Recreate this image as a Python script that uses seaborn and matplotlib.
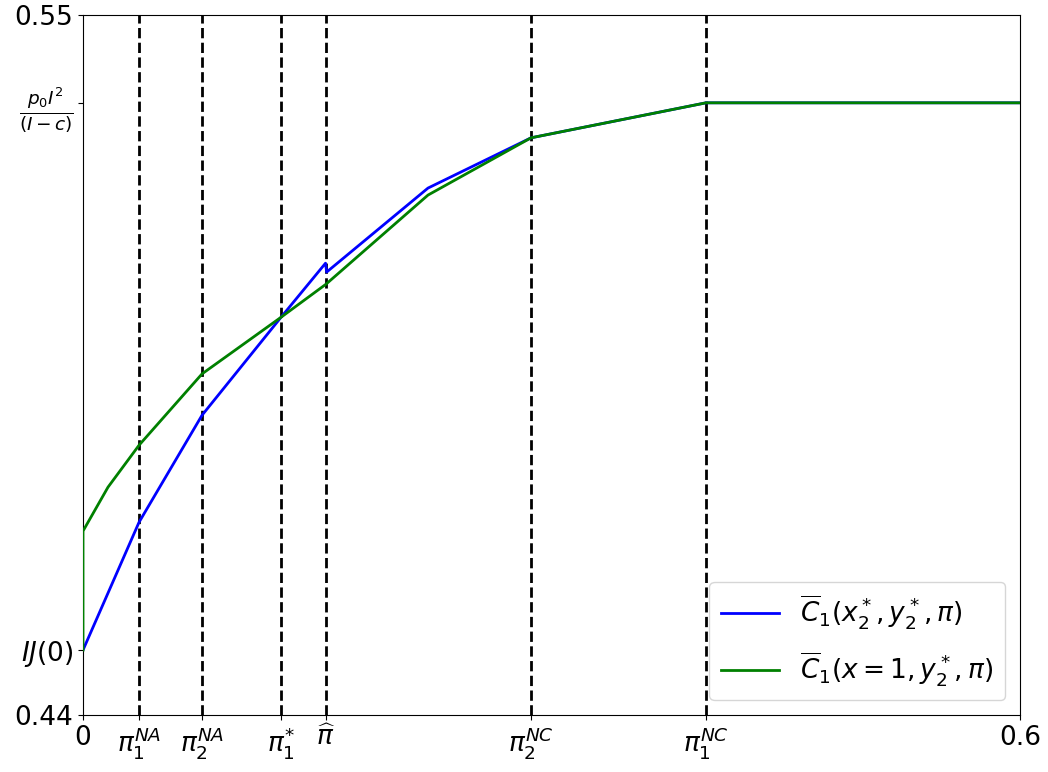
import matplotlib
matplotlib.use("Agg")
import matplotlib.pyplot as plt
import seaborn as sns
import pandas as pd

# Threshold positions (x) and reference levels (y)
thresholds = [0.0359, 0.0762, 0.1268, 0.1556, 0.2869, 0.3989]
x_tick_labels = ['0', r'$\pi_1^{NA}$', r'$\pi_2^{NA}$', r'$\pi_1^{*}$', r'$\widehat{\pi}$',
                 r'$\pi_2^{NC}$', r'$\pi_1^{NC}$', '0.6']
ij0 = 0.4502
top_level = 0.5362
y_tick_labels = ['0.44', r'$IJ(0)$', r'$\frac{p_0 I^2}{(I-c)}$', '0.55']

# Series
blue_x = [0, 0.0359, 0.0762, 0.1268, 0.1553, 0.1560, 0.2209, 0.2869, 0.3989, 0.6]
blue_y = [0.4502, 0.4703, 0.4871, 0.5025, 0.5110, 0.5096, 0.5228, 0.5307, 0.5362, 0.5362]
green_x = [0, 0, 0.016, 0.0359, 0.0762, 0.1268, 0.1556, 0.2209, 0.2869, 0.3989, 0.6]
green_y = [0.4502, 0.4689, 0.4758, 0.4824, 0.4936, 0.5025, 0.5077, 0.5217, 0.5307, 0.5362, 0.5362]

label_blue = r'$\overline{C}_1(x_2^*, y_2^*, \pi)$'
label_green = r'$\overline{C}_1(x=1, y_2^*, \pi)$'

plt.rcParams['font.family'] = ['DejaVu Sans']
plt.rcParams['mathtext.fontset'] = 'dejavusans'

fig = plt.figure(figsize=(10.48, 7.72), dpi=100)
ax = fig.add_axes([83/1048, 1 - 715/772, (1020-83)/1048, (715-15)/772])

for t in thresholds:
    ax.axvline(t, color='black', linestyle='--', linewidth=2, zorder=1)

df_b = pd.DataFrame({'x': blue_x, 'y': blue_y})
df_g = pd.DataFrame({'x': green_x, 'y': green_y})
sns.lineplot(data=df_b, x='x', y='y', sort=False, estimator=None, color='blue',
             linewidth=2, label=label_blue, ax=ax, zorder=2)
sns.lineplot(data=df_g, x='x', y='y', sort=False, estimator=None, color='green',
             linewidth=2, label=label_green, ax=ax, zorder=3)

ax.set_xlim(0, 0.6)
ax.set_ylim(0.44, 0.55)
ax.set_xticks([0] + thresholds + [0.6])
ax.set_xticklabels(x_tick_labels, fontsize=19)
ax.set_yticks([0.44, ij0, top_level, 0.55])
ax.set_yticklabels(y_tick_labels, fontsize=19)
ax.set_xlabel('')
ax.set_ylabel('')
for s in ax.spines.values():
    s.set_visible(True)
    s.set_color('black')

ax.legend(loc='lower right', fontsize=19, frameon=True, handlelength=2.2,
          handletextpad=0.8, labelspacing=0.7, borderpad=0.45, borderaxespad=0.55)

fig.savefig('out.png', dpi=100)
